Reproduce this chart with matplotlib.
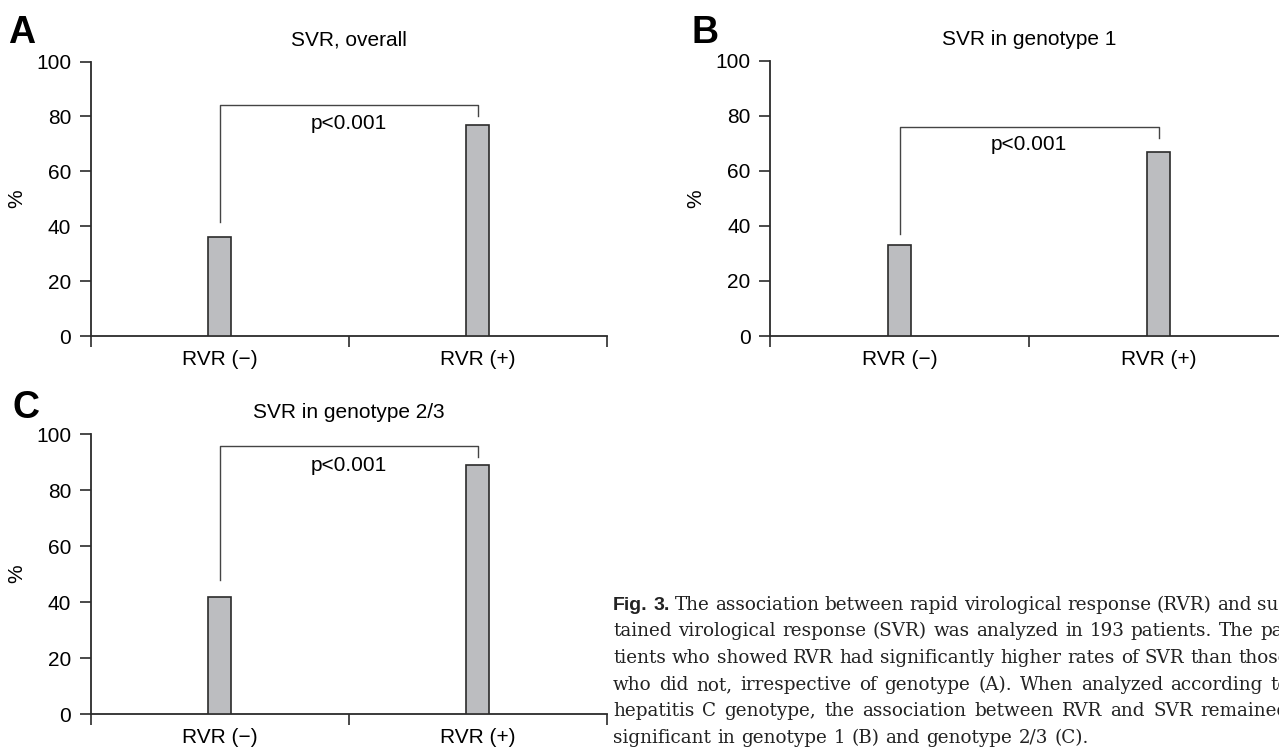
import matplotlib
matplotlib.use('Agg')
import matplotlib.pyplot as plt

plt.rcParams['font.family'] = ['Liberation Sans', 'DejaVu Sans']

# data
groups = ['RVR (\u2212)', 'RVR (+)']
svr_overall = [36, 77]
svr_gt1 = [33, 67]
svr_gt23 = [42, 89]
titles = ['SVR, overall', 'SVR in genotype 1', 'SVR in genotype 2/3']
letters = ['A', 'B', 'C']
p_label = 'p<0.001'
# bracket: (top, left end, right end) and y of the p-value text
brackets = [(84.3, 41.4, 80), (76, 37, 72), (95.7, 48, 92)]
p_y = [77.5, 69.5, 89]

caption = [
    'Fig. 3. The association between rapid virological response (RVR) and sus-',
    'tained virological response (SVR) was analyzed in 193 patients. The pa-',
    'tients who showed RVR had significantly higher rates of SVR than those',
    'who did not, irrespective of genotype (A). When analyzed according to',
    'hepatitis C genotype, the association between RVR and SVR remained',
    'significant in genotype 1 (B) and genotype 2/3 (C).',
]

W, H = 1279, 749
fig = plt.figure(figsize=(W / 100, H / 100), dpi=100)

line_col = '#2b2b2b'


def draw_panel(ax, vals, title, bracket, py):
    x = [0.5, 1.5]
    ax.bar(x, vals, width=0.087, color='#bcbdc0', edgecolor=line_col, linewidth=1.2, zorder=3)
    ax.set_xlim(0, 2)
    ax.set_ylim(0, 100)
    ax.set_yticks(range(0, 101, 20))
    ax.set_xticks([0, 1, 2])
    ax.set_xticklabels([])
    ax.set_xticks(x, minor=True)
    ax.set_xticklabels(groups, minor=True, fontsize=15)
    ax.tick_params(axis='x', which='minor', length=0, pad=10)
    ax.tick_params(axis='both', which='major', length=8, width=1.2, color=line_col,
                   labelsize=15, pad=6)
    for s in ['top', 'right']:
        ax.spines[s].set_visible(False)
    for s in ['left', 'bottom']:
        ax.spines[s].set_linewidth(1.3)
        ax.spines[s].set_color(line_col)
        ax.spines[s].set_clip_on(False)
    ax.set_ylabel('%', fontsize=15)
    ax.yaxis.set_label_coords(-0.125, 0.5)
    ax.set_title(title, fontsize=15, pad=11.5)
    top, left, right = bracket
    ax.plot([x[0], x[0], x[1], x[1]], [left, top, top, right], color='#444444', lw=1.0)
    ax.text(1.0, py, p_label, ha='center', va='center', fontsize=15)


# axes boxes in pixels: left, top(100), right, bottom(0)
boxes = [(90.7, 61.5, 606.7, 336), (770, 60.7, 1288, 336), (90.7, 434.3, 606.7, 714)]
data = [svr_overall, svr_gt1, svr_gt23]
letter_pos = [(8, 43), (692, 43), (12, 418)]

for box, vals, title, br, py, let, lp in zip(boxes, data, titles, brackets, p_y, letters, letter_pos):
    l, t, r, b = box
    ax = fig.add_axes([l / W, 1 - b / H, (r - l) / W, (b - t) / H])
    draw_panel(ax, vals, title, br, py)
    fig.text(lp[0] / W, 1 - lp[1] / H, let, fontsize=27, fontweight='bold', va='baseline')

# caption, justified lines like the journal layout
renderer = fig.canvas.get_renderer()
x0, x1 = 613, 1289
baselines = [610, 636.5, 663, 690, 716.5, 743]
serif = dict(family='DejaVu Serif', fontsize=13.2, va='baseline', color='#222222')
bold = dict(family='Liberation Sans', fontsize=14, fontweight='bold', va='baseline', color='#222222')

for i, (line, yb) in enumerate(zip(caption, baselines)):
    words = line.split(' ')
    texts = []
    for j, w in enumerate(words):
        style = bold if (i == 0 and j < 2) else serif
        texts.append(fig.text(0, 1 - yb / H, w, **style))
    widths = [t.get_window_extent(renderer).width for t in texts]
    if i < len(caption) - 1:
        gap = max(5.5, (x1 - x0 - sum(widths)) / (len(words) - 1))
    else:
        gap = 6.3
    pos = x0
    for t, w in zip(texts, widths):
        t.set_x(pos / W)
        pos += w + gap

fig.savefig('out.png', dpi=100)
